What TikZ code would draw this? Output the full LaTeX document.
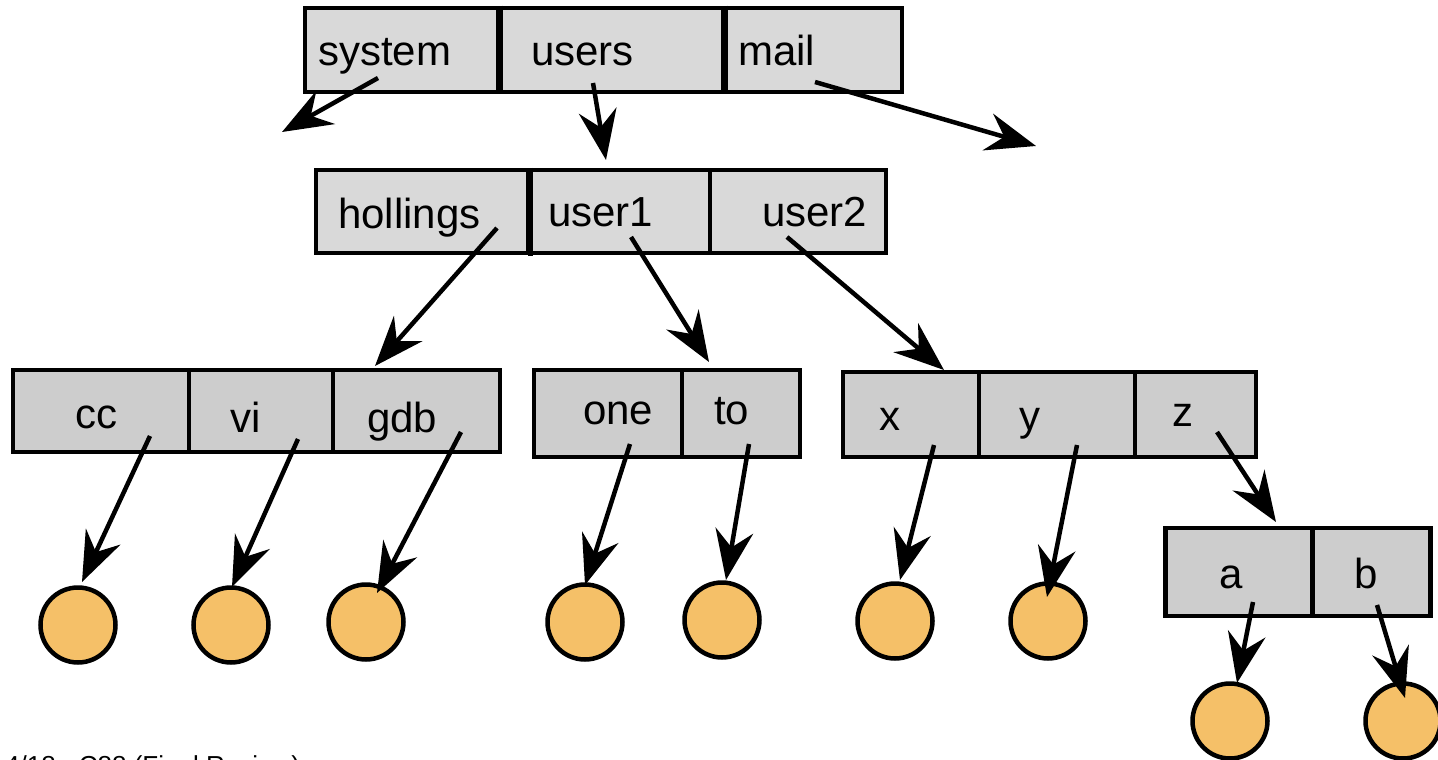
\documentclass[tikz,border=0pt]{standalone}
\usepackage{fontspec}
\setmainfont{Liberation Sans}
\usetikzlibrary{arrows.meta}
\definecolor{cellA}{HTML}{D9D9D9}
\definecolor{cellB}{HTML}{CDCDCD}
\definecolor{leaf}{HTML}{F5C068}
\tikzset{
  cellbox/.style={draw=black, line width=4.5pt, fill=#1, inner sep=0pt, rectangle},
  lbl/.style={anchor=base west, inner sep=0pt, font=\fontsize{42}{48}\selectfont},
  leafnode/.style={circle, draw=black, line width=4.5pt, fill=leaf, minimum size=75pt, inner sep=0pt},
  ptr/.style={line width=4.5pt, -{Stealth[length=50pt,width=38pt,inset=17pt]}},
  divider/.style={line width=4.5pt},
}
\begin{document}
\begin{tikzpicture}[x=1pt,y=-1pt]
\clip (0,0) rectangle (1438,760);
\fill[white] (0,0) rectangle (1438,760);

% top directory
\node[cellbox=cellA, minimum width=193pt, minimum height=84pt] (c-system) at (401.5,50) {};
\node[cellbox=cellA, minimum width=225pt, minimum height=84pt] (c-users) at (610.5,50) {};
\node[cellbox=cellA, minimum width=179pt, minimum height=84pt] (c-mail) at (812.5,50) {};
\draw[divider] (c-system.north east) -- ++(0,88);
\draw[divider] (c-users.north east) -- ++(0,88);
\node[lbl] (t-system) at (318,66) {system};
\node[lbl] (t-users) at (531,66) {users};
\node[lbl] (t-mail) at (738,66) {mail};

% users directory
\node[cellbox=cellA, minimum width=212pt, minimum height=83pt] (c-hollings) at (422,211.5) {};
\node[cellbox=cellA, minimum width=182pt, minimum height=83pt] (c-user1) at (619,211.5) {};
\node[cellbox=cellA, minimum width=176pt, minimum height=83pt] (c-user2) at (798,211.5) {};
\draw[divider] (c-hollings.north east) -- ++(0,88);
\node[lbl] (t-hollings) at (338,228) {hollings};
\node[lbl] (t-user1) at (548,226) {user1};
\node[lbl] (t-user2) at (762,226) {user2};

% hollings directory
\node[cellbox=cellB, minimum width=176pt, minimum height=82pt] (c-cc) at (101,411) {};
\node[cellbox=cellB, minimum width=144pt, minimum height=82pt] (c-vi) at (261,411) {};
\node[cellbox=cellB, minimum width=167pt, minimum height=82pt] (c-gdb) at (416.5,411) {};
\node[lbl] (t-cc) at (75,428) {cc};
\node[lbl] (t-vi) at (230,432) {vi};
\node[lbl] (t-gdb) at (367,432) {gdb};

% user1 directory
\node[cellbox=cellB, minimum width=148pt, minimum height=87pt] (c-one) at (608,413.5) {};
\node[cellbox=cellB, minimum width=118pt, minimum height=87pt] (c-to) at (741,413.5) {};
\node[lbl] (t-one) at (583,424) {one};
\node[lbl] (t-to) at (714,424) {to};

% user2 directory
\node[cellbox=cellB, minimum width=136pt, minimum height=85pt] (c-x) at (911,414.5) {};
\node[cellbox=cellB, minimum width=156pt, minimum height=85pt] (c-y) at (1057,414.5) {};
\node[cellbox=cellB, minimum width=121pt, minimum height=85pt] (c-z) at (1195.5,414.5) {};
\node[lbl] (t-x) at (879,430) {x};
\node[lbl] (t-y) at (1019,430) {y};
\node[lbl] (t-z) at (1172,426) {z};

% z directory
\node[cellbox=cellB, minimum width=147pt, minimum height=88pt] (c-a) at (1239,572) {};
\node[cellbox=cellB, minimum width=118pt, minimum height=88pt] (c-b) at (1371.5,572) {};
\node[lbl] (t-a) at (1219,588) {a};
\node[lbl] (t-b) at (1354,588) {b};

% leaves
\node[leafnode] (l-cc) at (78,625) {};
\node[leafnode] (l-vi) at (231,625) {};
\node[leafnode] (l-gdb) at (366,622) {};
\node[leafnode] (l-one) at (585,622) {};
\node[leafnode] (l-to) at (722,620) {};
\node[leafnode] (l-x) at (895,621) {};
\node[leafnode] (l-y) at (1048,621) {};
\node[leafnode] (l-a) at (1230,721) {};
\node[leafnode] (l-b) at (1403,721) {};

% pointer start and end points
\coordinate (s-system) at (378,78);   \coordinate (e-system) at (282,132);
\coordinate (s-users) at (593,83);    \coordinate (e-users) at (606,160);
\coordinate (s-mail) at (815,82);     \coordinate (e-mail) at (1036,146);
\coordinate (s-hollings) at (497,228);\coordinate (e-hollings) at (375,366);
\coordinate (s-user1) at (631,237);   \coordinate (e-user1) at (709,362);
\coordinate (s-user2) at (787,237);   \coordinate (e-user2) at (944,370);
\coordinate (s-cc) at (150,436);      \coordinate (e-cc) at (82,582);
\coordinate (s-vi) at (298,439);      \coordinate (e-vi) at (232,587);
\coordinate (s-gdb) at (461,432);     \coordinate (e-gdb) at (377,593);
\coordinate (s-one) at (630,444);     \coordinate (e-one) at (585,585);
\coordinate (s-to) at (749,444);      \coordinate (e-to) at (726,580);
\coordinate (s-x) at (934,445);       \coordinate (e-x) at (900,580);
\coordinate (s-y) at (1077,445);      \coordinate (e-y) at (1047,597);
\coordinate (s-z) at (1217,432);      \coordinate (e-z) at (1276,522);
\coordinate (s-a) at (1253,602);      \coordinate (e-a) at (1237,683);
\coordinate (s-b) at (1377,605);      \coordinate (e-b) at (1405,698);

\foreach \n in {system,users,mail,hollings,user1,user2,cc,vi,gdb,one,to,x,y,z,a,b}
  \draw[ptr] (s-\n) -- (e-\n);

% footer (cut off by the page edge, as in the original)
\node[anchor=base west, inner sep=0pt, font=\fontsize{26}{30}\selectfont] (footer) at (5,774) {4/18 - C88 (Final Review)};
\end{tikzpicture}
\end{document}
